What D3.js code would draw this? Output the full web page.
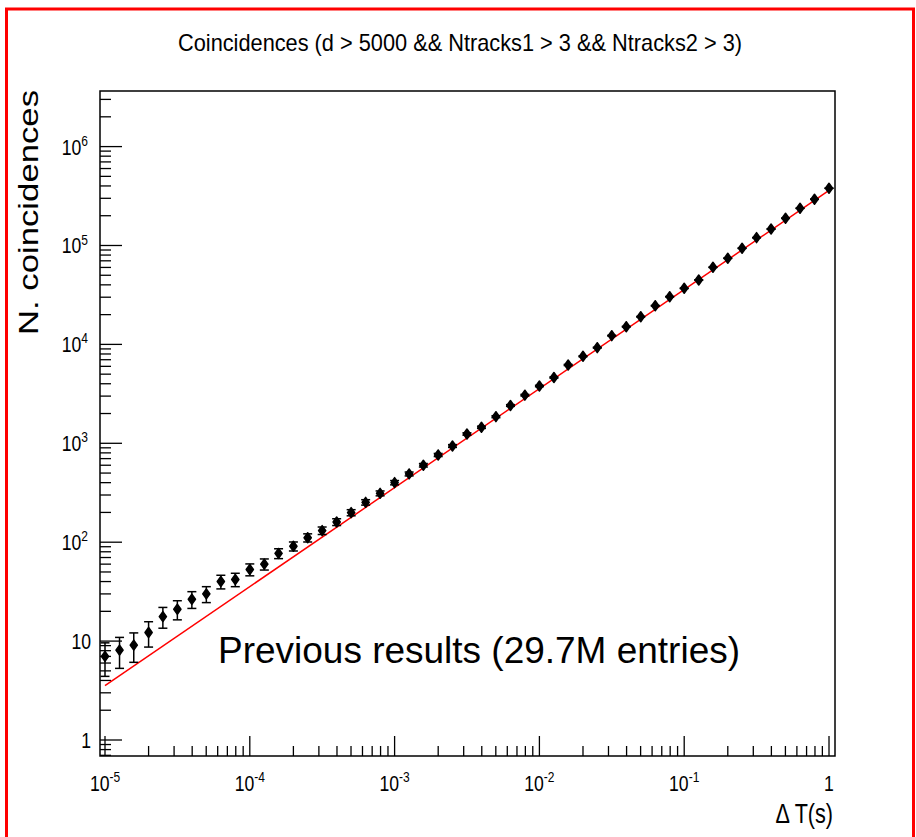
<!DOCTYPE html>
<html>
<head>
<meta charset="utf-8">
<script src="https://cdn.jsdelivr.net/npm/d3@7"></script>
<style>
body { margin: 0; background: #fff; }
svg text { font-family: "Liberation Sans", Arial, Helvetica, sans-serif; fill: #000; }
</style>
</head>
<body>
<svg id="chart"></svg>
<script>
// time window (s), one point per 0.1 decade
var deltaT = [
  1.00e-5, 1.26e-5, 1.58e-5, 2.00e-5, 2.51e-5, 3.16e-5, 3.98e-5, 5.01e-5, 6.31e-5, 7.94e-5,
  1.00e-4, 1.26e-4, 1.58e-4, 2.00e-4, 2.51e-4, 3.16e-4, 3.98e-4, 5.01e-4, 6.31e-4, 7.94e-4,
  1.00e-3, 1.26e-3, 1.58e-3, 2.00e-3, 2.51e-3, 3.16e-3, 3.98e-3, 5.01e-3, 6.31e-3, 7.94e-3,
  1.00e-2, 1.26e-2, 1.58e-2, 2.00e-2, 2.51e-2, 3.16e-2, 3.98e-2, 5.01e-2, 6.31e-2, 7.94e-2,
  1.00e-1, 1.26e-1, 1.58e-1, 2.00e-1, 2.51e-1, 3.16e-1, 3.98e-1, 5.01e-1, 6.31e-1, 7.94e-1,
  1.00
];
var coincidences = [
  7, 8.1, 9.1, 12.2, 17.7, 21, 26.5, 30, 40, 42,
  53, 60, 77, 91, 111, 131, 160, 199, 253, 312,
  400, 490, 600, 762, 939, 1242, 1452, 1858, 2411, 3065,
  3795, 4627, 6191, 7586, 9265, 12250, 15100, 19050, 24600, 30350,
  36900, 44780, 60200, 74300, 93800, 120000, 146800, 188300, 237700, 293300,
  378800
];
var coincErr = [
  2.6, 2.8, 3.0, 3.5, 4.2, 4.6, 5.1, 5.5, 6.3, 6.5,
  7.3, 7.7, 8.8, 9.5, 10.5, 11.4, 12.6, 14.1, 15.9, 17.7,
  20, 22.1, 24.5, 27.6, 30.6, 35, 38, 43, 49, 55,
  62, 68, 79, 87, 96, 111, 123, 138, 157, 174,
  192, 212, 245, 273, 306, 346, 383, 434, 488, 542,
  615
];
// previous results (red line), end points
var fitX = [1e-5, 1];
var fitY = [3.54, 3.6e5];

var xTickVals = [1e-5, 1e-4, 1e-3, 1e-2, 1e-1, 1];
var xTickBase = ["10", "10", "10", "10", "10", "1"];
var xTickExp = ["-5", "-4", "-3", "-2", "-1", ""];
var yTickVals = [1, 10, 100, 1e3, 1e4, 1e5, 1e6];
var yTickBase = ["1", "10", "10", "10", "10", "10", "10"];
var yTickExp = ["", "", "2", "3", "4", "5", "6"];

var margin = {top: 91, left: 100},
    width = 735,
    height = 665;

var root = d3.select("#chart")
  .attr("width", 916)
  .attr("height", 837);

// red outline around the slide picture
root.append("rect")
  .attr("x", 6.5).attr("y", 9)
  .attr("width", 907).attr("height", 840)
  .attr("fill", "none")
  .attr("stroke", "#f00")
  .attr("stroke-width", 3);

root.append("text")
  .attr("x", 460).attr("y", 51)
  .attr("text-anchor", "middle")
  .attr("font-size", 24)
  .attr("textLength", 564)
  .attr("lengthAdjust", "spacingAndGlyphs")
  .text("Coincidences (d > 5000 && Ntracks1 > 3 && Ntracks2 > 3)");

var svg = root.append("g")
  .attr("transform", "translate(" + margin.left + "," + margin.top + ")");

var xScale = d3.scaleLog()
  .domain([9.236e-6, 1.100])
  .range([0, width]);
var yScale = d3.scaleLog()
  .domain([0.689, 3.648e6])
  .range([height, 0]);

// minor ticks, 2..9 in each decade
function minorTicks(scale) {
  var dom = scale.domain(), out = [];
  for (var k = Math.floor(Math.log10(dom[0])); k <= Math.ceil(Math.log10(dom[1])); k++) {
    for (var m = 2; m <= 9; m++) {
      var v = m * Math.pow(10, k);
      if (v >= dom[0] && v <= dom[1]) out.push(v);
    }
  }
  return out;
}

var ticks = svg.append("g").attr("stroke", "#000").attr("stroke-width", 1.3);

ticks.selectAll(".ymin").data(minorTicks(yScale)).enter()
  .append("line")
  .attr("x1", 0).attr("x2", 11)
  .attr("y1", function(d) { return yScale(d); })
  .attr("y2", function(d) { return yScale(d); });
ticks.selectAll(".ymaj").data(yTickVals).enter()
  .append("line")
  .attr("x1", 0).attr("x2", 22)
  .attr("y1", function(d) { return yScale(d); })
  .attr("y2", function(d) { return yScale(d); });

ticks.selectAll(".xmin").data(minorTicks(xScale)).enter()
  .append("line")
  .attr("y1", height).attr("y2", height - 10)
  .attr("x1", function(d) { return xScale(d); })
  .attr("x2", function(d) { return xScale(d); });
ticks.selectAll(".xmaj").data(xTickVals).enter()
  .append("line")
  .attr("y1", height).attr("y2", height - 20)
  .attr("x1", function(d) { return xScale(d); })
  .attr("x2", function(d) { return xScale(d); });

// tick labels (condensed like the ROOT output)
var yLab = svg.selectAll(".ylab").data(yTickVals).enter()
  .append("g")
  .attr("transform", function(d, i) {
    var dx = yTickExp[i] ? -12 : -9;
    return "translate(" + dx + "," + (yScale(d) + 8) + ") scale(0.8,1)";
  })
  .append("text")
  .attr("text-anchor", "end")
  .attr("font-size", 22);
yLab.append("tspan").text(function(d, i) { return yTickBase[i]; });
yLab.append("tspan")
  .attr("dy", -9)
  .attr("font-size", 15)
  .text(function(d, i) { return yTickExp[i]; });

var xLab = svg.selectAll(".xlab").data(xTickVals).enter()
  .append("g")
  .attr("transform", function(d) {
    return "translate(" + xScale(d) + "," + (height + 35) + ") scale(0.8,1)";
  })
  .append("text")
  .attr("text-anchor", "middle")
  .attr("font-size", 22);
xLab.append("tspan").text(function(d, i) { return xTickBase[i]; });
xLab.append("tspan")
  .attr("dy", -9)
  .attr("font-size", 15)
  .text(function(d, i) { return xTickExp[i]; });

// axis titles
root.append("text")
  .attr("transform", "translate(38,90) rotate(-90)")
  .attr("text-anchor", "end")
  .attr("font-size", 28)
  .attr("textLength", 245)
  .attr("lengthAdjust", "spacingAndGlyphs")
  .text("N. coincidences");

root.append("g")
  .attr("transform", "translate(833,823) scale(0.8,1)")
  .append("text")
  .attr("text-anchor", "end")
  .attr("font-size", 27)
  .text("\u0394 T(s)");

// previous results line
var line = d3.line()
  .x(function(d, i) { return xScale(d); })
  .y(function(d, i) { return yScale(fitY[i]); });
svg.append("path")
  .datum(fitX)
  .attr("d", line)
  .attr("fill", "none")
  .attr("stroke", "#f00")
  .attr("stroke-width", 1.5);

// data points with error bars
var data = deltaT.map(function(t, i) {
  return {t: t, n: coincidences[i], e: coincErr[i]};
});

var pts = svg.selectAll(".pt").data(data).enter()
  .append("g")
  .attr("class", "pt")
  .attr("transform", function(d) { return "translate(" + xScale(d.t) + ",0)"; });

pts.append("line")
  .attr("x1", 0).attr("x2", 0)
  .attr("y1", function(d) { return yScale(d.n - d.e); })
  .attr("y2", function(d) { return yScale(d.n + d.e); })
  .attr("stroke", "#000").attr("stroke-width", 1.5);
pts.append("line")
  .attr("x1", -4.5).attr("x2", 4.5)
  .attr("y1", function(d) { return yScale(d.n - d.e); })
  .attr("y2", function(d) { return yScale(d.n - d.e); })
  .attr("stroke", "#000").attr("stroke-width", 1.5);
pts.append("line")
  .attr("x1", -4.5).attr("x2", 4.5)
  .attr("y1", function(d) { return yScale(d.n + d.e); })
  .attr("y2", function(d) { return yScale(d.n + d.e); })
  .attr("stroke", "#000").attr("stroke-width", 1.5);
pts.append("path")
  .attr("d", "M0,-5L3.6,0L0,5L-3.6,0Z")
  .attr("transform", function(d) { return "translate(0," + yScale(d.n) + ")"; })
  .attr("fill", "#000")
  .attr("stroke", "#000")
  .attr("stroke-width", 1.5)
  .attr("stroke-linejoin", "round");

root.append("text")
  .attr("x", 218).attr("y", 663)
  .attr("font-size", 36)
  .attr("textLength", 522)
  .attr("lengthAdjust", "spacingAndGlyphs")
  .text("Previous results (29.7M entries)");

// frame
svg.append("rect")
  .attr("width", width).attr("height", height)
  .attr("fill", "none")
  .attr("stroke", "#000")
  .attr("stroke-width", 1.5);
</script>
</body>
</html>
